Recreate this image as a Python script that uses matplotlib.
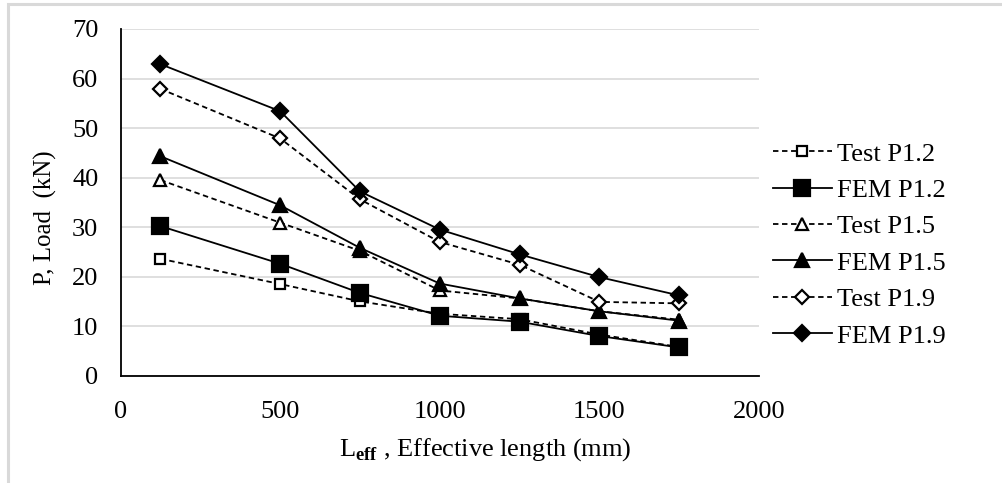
import matplotlib.pyplot as plt
import matplotlib.patches as patches

# ---- datos ----
longitud = [125, 500, 750, 1000, 1250, 1500, 1750]

test_p12 = [23.6, 18.5, 15.0, 12.5, 11.4, 8.3, 5.8]
fem_p12 = [30.2, 22.6, 16.7, 12.1, 10.9, 8.0, 5.7]
test_p15 = [39.5, 30.9, 25.2, 17.2, 15.6, 13.0, 11.3]
fem_p15 = [44.3, 34.4, 25.8, 18.6, 15.6, 13.0, 11.1]
test_p19 = [57.9, 47.9, 35.6, 27.0, 22.4, 14.9, 14.6]
fem_p19 = [62.9, 53.4, 37.2, 29.5, 24.5, 19.9, 16.2]

series = [
    ("Test P1.2", test_p12, "s", "--", "white", 7.5),
    ("FEM P1.2", fem_p12, "s", "-", "black", 11),
    ("Test P1.5", test_p15, "^", "--", "white", 8),
    ("FEM P1.5", fem_p15, "^", "-", "black", 10),
    ("Test P1.9", test_p19, "D", "--", "white", 7),
    ("FEM P1.9", fem_p19, "D", "-", "black", 8.5),
]

plt.rcParams["font.family"] = ["Liberation Serif", "DejaVu Serif"]
plt.rcParams["mathtext.fontset"] = "custom"
plt.rcParams["mathtext.rm"] = "Liberation Serif"
plt.rcParams["mathtext.bf"] = "Liberation Serif:bold"

TAM = 19

fig = plt.figure(figsize=(10.02, 4.83), dpi=100)
ax = fig.add_axes([0.1203, 0.2222, 0.6372, 0.7178])

# marco gris de la figura
fig.patches.append(patches.Rectangle((8 / 1002, -0.1), 1.2, 1 - 4 / 483 + 0.1,
                                     transform=fig.transFigure, fill=False,
                                     edgecolor="#d9d9d9", linewidth=2.2))

for nombre, valores, marca, estilo, relleno, tam in series:
    ax.plot(longitud, valores, linestyle=estilo, color="black", linewidth=1.3,
            marker=marca, markersize=tam, markerfacecolor=relleno,
            markeredgecolor="black", markeredgewidth=1.6,
            dashes=(3, 2) if estilo == "--" else (None, None),
            label=nombre, zorder=3)

ax.set_xlim(0, 2000)
ax.set_ylim(0, 70)
ax.set_xticks([0, 500, 1000, 1500, 2000])
ax.set_yticks(range(0, 71, 10))
ax.grid(axis="y", color="#d9d9d9", linewidth=1.2)
ax.set_axisbelow(True)
ax.tick_params(length=0, labelsize=TAM, pad=16)
ax.tick_params(axis="x", pad=18)

for lado in ["top", "right"]:
    ax.spines[lado].set_visible(False)
for lado in ["left", "bottom"]:
    ax.spines[lado].set_linewidth(1.3)
    ax.spines[lado].set_color("black")

ax.set_ylabel("P, Load  (kN)", fontsize=18)
ax.yaxis.set_label_coords(-0.100, 0.455)
ax.set_xlabel(r"L$_{\mathbf{eff}}$ , Effective length (mm)", fontsize=TAM)
ax.xaxis.set_label_coords(0.572, -0.175)

ax.legend(loc="upper left", bbox_to_anchor=(0.98, 0.75), frameon=False,
          fontsize=TAM, handlelength=2.25, handletextpad=0.2,
          labelspacing=0.49, borderaxespad=0.6)

fig.savefig("out.png", dpi=100)
